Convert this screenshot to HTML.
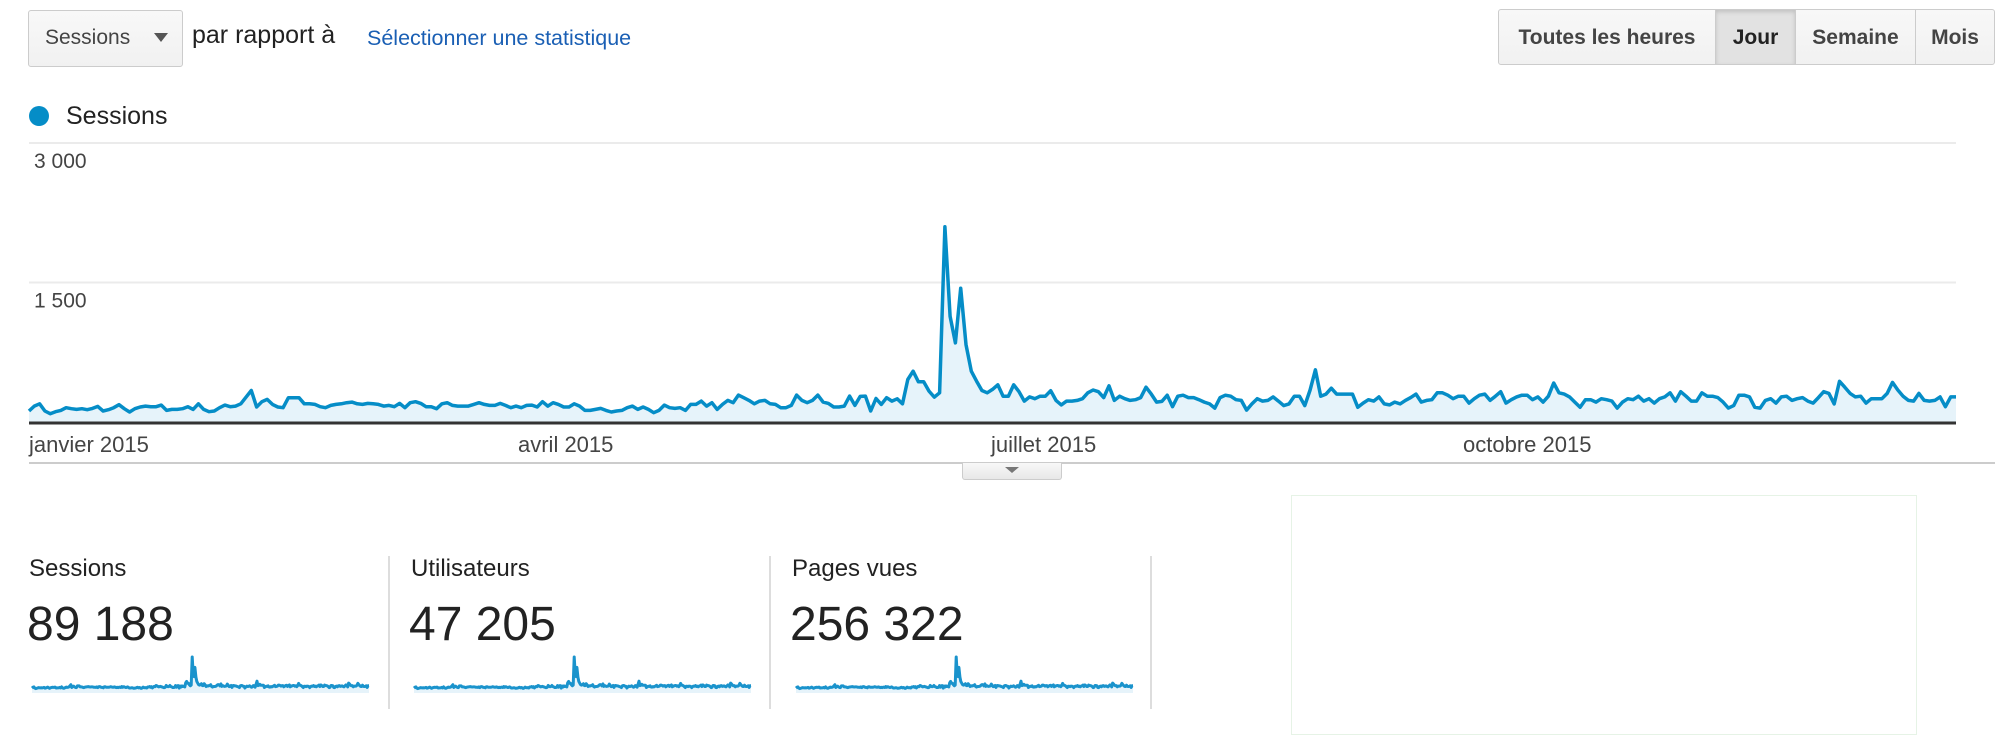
<!DOCTYPE html>
<html><head><meta charset="utf-8">
<style>
body{margin:0;width:2010px;height:730px;overflow:hidden;background:#fff;font-family:"Liberation Sans",sans-serif;position:relative}
.abs{position:absolute}
.btn{position:absolute;top:9px;height:56px;line-height:56px;text-align:center;font-weight:bold;font-size:21px;color:#444;background:linear-gradient(#f8f8f8,#f1f1f1);border:1px solid #ccc;box-sizing:border-box;white-space:nowrap}
.card-title{position:absolute;top:555px;font-size:24px;color:#222}
.card-num{position:absolute;top:597px;font-size:48px;color:#222}
.divider{position:absolute;top:556px;width:2px;height:153px;background:#ddd}
</style></head><body>
<div class="abs" style="left:28px;top:10px;width:155px;height:57px;box-sizing:border-box;border:1px solid #ccc;border-radius:3px;background:linear-gradient(#f8f8f8,#f1f1f1)">
  <span class="abs" style="left:16px;top:15px;font-size:21px;color:#444">Sessions</span>
  <span class="abs" style="left:125px;top:22px;width:0;height:0;border-left:7px solid transparent;border-right:7px solid transparent;border-top:9px solid #555"></span>
</div>
<span class="abs" style="left:192px;top:21px;font-size:25px;color:#222">par rapport à</span>
<span class="abs" style="left:367px;top:26px;font-size:21.5px;color:#1a5fb4">Sélectionner une statistique</span>

<div class="btn" style="left:1498px;width:218px;border-radius:3px 0 0 3px">Toutes les heures</div>
<div class="btn" style="left:1715px;width:81px;background:#e2e2e2;box-shadow:inset 0 2px 4px rgba(0,0,0,.15);color:#222">Jour</div>
<div class="btn" style="left:1795px;width:121px">Semaine</div>
<div class="btn" style="left:1915px;width:80px;border-radius:0 3px 3px 0">Mois</div>

<div class="abs" style="left:29px;top:106px;width:20px;height:20px;border-radius:50%;background:#058dc7"></div>
<span class="abs" style="left:66px;top:102px;font-size:25px;color:#222">Sessions</span>

<svg class="abs" id="chart" style="left:0;top:0" width="2010" height="470"></svg>

<div class="abs" style="left:29px;top:462px;width:1966px;height:2px;background:#ccc"></div>
<div class="abs" style="left:962px;top:463px;width:100px;height:17px;box-sizing:border-box;border:1px solid #ccc;border-top:none;border-radius:0 0 3px 3px;background:linear-gradient(#f8f8f8,#e8e8e8)">
  <span class="abs" style="left:42px;top:4px;width:0;height:0;border-left:7px solid transparent;border-right:7px solid transparent;border-top:6px solid #777"></span>
</div>
<div class="abs" style="left:1291px;top:495px;width:626px;height:240px;box-sizing:border-box;border:1px solid #e6f3e6"></div>

<span class="card-title" style="left:29px">Sessions</span>
<span class="card-num" style="left:27px">89 188</span>
<div class="divider" style="left:388px"></div>
<span class="card-title" style="left:411px">Utilisateurs</span>
<span class="card-num" style="left:409px">47 205</span>
<div class="divider" style="left:769px"></div>
<span class="card-title" style="left:792px">Pages vues</span>
<span class="card-num" style="left:790px">256 322</span>
<div class="divider" style="left:1150px"></div>
<svg class="abs" id="sparks" style="left:0;top:640px" width="1200" height="60"></svg>

<script>
const sessions = [118,171,196,118,89,111,125,154,143,136,143,132,146,168,118,132,154,186,143,107,143,161,171,164,164,182,125,136,136,143,164,136,196,136,111,118,154,182,164,171,196,268,339,161,218,243,189,161,154,261,261,261,196,196,189,164,154,179,189,196,207,214,196,189,200,196,189,171,179,164,200,154,207,218,200,164,164,143,196,207,179,171,171,171,189,207,189,179,179,200,179,154,
171,154,179,182,161,218,171,207,189,161,161,196,171,125,125,136,146,125,107,118,125,154,171,136,161,136,100,125,182,154,146,154,125,189,189,225,171,207,136,189,232,207,289,261,232,196,225,232,196,189,154,154,179,289,232,207,232,289,214,200,161,161,171,278,179,275,278,118,253,189,261,225,250,196,457,546,432,432,332,268,314,2099,1135,850,1439,832,546,439,339,314,350,
400,277,277,400,326,225,270,251,277,277,337,232,184,225,225,232,251,314,344,326,262,389,232,277,251,232,240,262,374,300,214,221,288,165,277,288,262,262,240,214,195,150,262,288,277,240,232,128,195,251,225,232,270,225,176,195,277,277,176,344,561,277,300,363,300,300,300,300,158,203,240,225,270,195,184,214,195,232,262,300,214,232,240,314,314,288,251,277,277,203,251,
288,300,232,277,326,203,240,270,288,288,240,270,214,277,419,314,300,270,214,158,240,240,214,251,240,225,150,214,251,240,277,225,251,203,251,270,314,225,326,277,225,225,314,277,277,262,214,150,176,288,288,270,158,150,232,251,203,270,277,232,251,262,225,203,262,326,307,195,438,374,307,270,277,203,251,251,251,307,426,344,277,232,225,307,232,225,232,270,165,270,270];
const yTicks = [0,1500,3000];
const yTickLabels = ["", "1 500", "3 000"];
const xTickLabels = ["janvier 2015","avril 2015","juillet 2015","octobre 2015"];
const xTickPos = [29,518,991,1463];

const NS="http://www.w3.org/2000/svg";
const svg=document.getElementById('chart');
const X0=29,X1=1956,Y0=422,YMAX=3000,YTOP=143;
function xs(i){return X0+i*(X1-X0)/(sessions.length-1);}
function ys(v){return Y0-(v/YMAX)*(Y0-YTOP);}
function mk(t,a){const e=document.createElementNS(NS,t);for(const k in a)e.setAttribute(k,a[k]);svg.appendChild(e);return e;}

yTicks.forEach((t,i)=>{
  if(t===0)return;
  const g=mk('line',{x1:X0,x2:X1,y1:ys(t),y2:ys(t),stroke:'#ebebeb','stroke-width':2});
  
  
  const l=mk('text',{x:34,y:ys(t)+25,'font-size':21,fill:'#444','font-family':'Liberation Sans, sans-serif'});
  l.textContent=yTickLabels[i];
  
  
});
let d='';
sessions.forEach((v,i)=>{d+=(i?'L':'M')+xs(i).toFixed(1)+','+ys(v).toFixed(1);});
const area=mk('path',{d:d+'L'+X1+','+Y0+'L'+X0+','+Y0+'Z',fill:'#e6f3fa'});


const line=mk('path',{d:d,fill:'none',stroke:'#058dc7','stroke-width':3.5,'stroke-linejoin':'round'});


const ax=mk('line',{x1:X0,x2:X1,y1:Y0+1,y2:Y0+1,stroke:'#333','stroke-width':3});


xTickLabels.forEach((s,i)=>{
  const t=mk('text',{x:xTickPos[i],y:452,'font-size':22,fill:'#444','font-family':'Liberation Sans, sans-serif'});
  t.textContent=s;
  
  
});

const sp=document.getElementById('sparks');
[32,414,796].forEach((x0,k)=>{
  const w=337,base=50,sc=33/2100;
  let pd='';
  sessions.forEach((v,i)=>{pd+=(i?'L':'M')+(x0+i*w/(sessions.length-1)).toFixed(1)+','+(base-v*sc).toFixed(1);});
  const f=document.createElementNS(NS,'path');
  f.setAttribute('d',pd+'L'+(x0+w)+','+(base+3)+'L'+x0+','+(base+3)+'Z');
  f.setAttribute('fill','#e6f3fa');
  
  
  sp.appendChild(f);
  const p=document.createElementNS(NS,'path');
  p.setAttribute('d',pd);
  p.setAttribute('fill','none');
  p.setAttribute('stroke','#1a93cc');
  p.setAttribute('stroke-width','3');
  p.setAttribute('stroke-linejoin','round');
  
  
  sp.appendChild(p);
});
</script>
</body></html>
